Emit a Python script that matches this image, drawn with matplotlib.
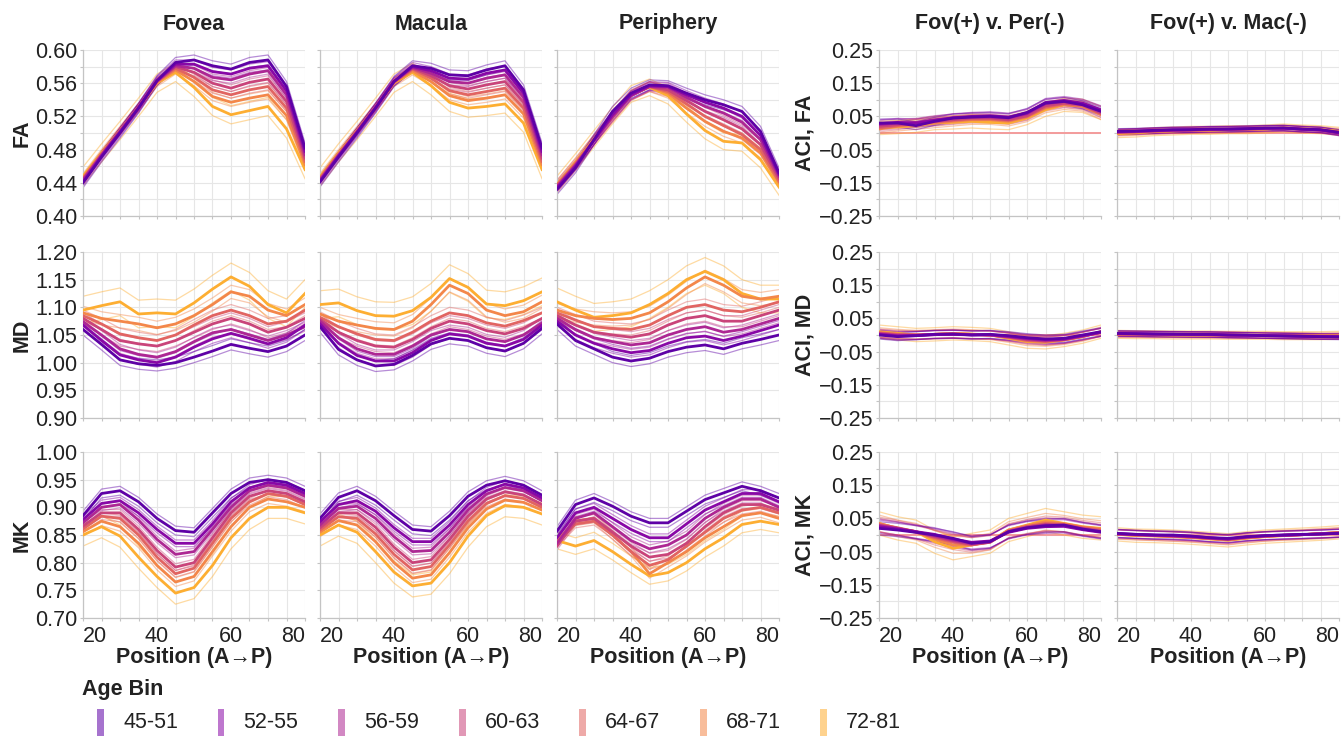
import numpy as np
import matplotlib
matplotlib.use("Agg")
import matplotlib.pyplot as plt
from matplotlib.colors import to_rgb
from matplotlib.patches import Rectangle
from matplotlib.ticker import FuncFormatter, MultipleLocator

plt.rcParams["font.family"] = ["Liberation Sans", "DejaVu Sans"]

# Positions along the tract (A -> P)
POSITION = [20, 25, 30, 35, 40, 45, 50, 55, 60, 65, 70, 75, 80]

AGE_BINS = ["45-51", "52-55", "56-59", "60-63", "64-67", "68-71", "72-81"]
CMAP_STOPS = [0.17, 0.28, 0.39, 0.49, 0.60, 0.71, 0.82]

# Mean profile per age bin (rows = age bins, cols = positions)
FOVEA_FA = [
    [0.440, 0.471, 0.500, 0.530, 0.563, 0.585, 0.588, 0.581, 0.577, 0.585, 0.588, 0.556, 0.482],
    [0.441, 0.472, 0.501, 0.530, 0.563, 0.583, 0.583, 0.574, 0.571, 0.578, 0.581, 0.551, 0.478],
    [0.443, 0.473, 0.502, 0.531, 0.563, 0.581, 0.578, 0.567, 0.564, 0.571, 0.575, 0.546, 0.474],
    [0.444, 0.474, 0.502, 0.531, 0.562, 0.580, 0.573, 0.560, 0.554, 0.561, 0.565, 0.538, 0.470],
    [0.445, 0.474, 0.503, 0.531, 0.562, 0.578, 0.567, 0.552, 0.546, 0.552, 0.556, 0.530, 0.466],
    [0.446, 0.475, 0.503, 0.531, 0.561, 0.576, 0.562, 0.544, 0.537, 0.542, 0.546, 0.521, 0.462],
    [0.448, 0.476, 0.503, 0.531, 0.560, 0.573, 0.555, 0.532, 0.522, 0.527, 0.532, 0.505, 0.456],
]
MACULA_FA = [
    [0.441, 0.471, 0.500, 0.530, 0.562, 0.581, 0.578, 0.570, 0.569, 0.576, 0.581, 0.552, 0.482],
    [0.442, 0.472, 0.501, 0.530, 0.562, 0.580, 0.575, 0.566, 0.565, 0.572, 0.576, 0.548, 0.478],
    [0.443, 0.473, 0.501, 0.531, 0.562, 0.579, 0.572, 0.562, 0.560, 0.566, 0.570, 0.543, 0.474],
    [0.444, 0.473, 0.502, 0.531, 0.562, 0.578, 0.569, 0.557, 0.553, 0.558, 0.562, 0.537, 0.470],
    [0.445, 0.474, 0.502, 0.531, 0.561, 0.577, 0.566, 0.551, 0.546, 0.550, 0.554, 0.530, 0.466],
    [0.446, 0.475, 0.503, 0.531, 0.561, 0.575, 0.562, 0.545, 0.539, 0.542, 0.546, 0.523, 0.462],
    [0.447, 0.476, 0.503, 0.531, 0.560, 0.573, 0.557, 0.537, 0.530, 0.532, 0.535, 0.512, 0.456],
]
PERIPHERY_FA = [
    [0.432, 0.458, 0.492, 0.526, 0.548, 0.558, 0.557, 0.548, 0.540, 0.534, 0.526, 0.502, 0.452],
    [0.434, 0.460, 0.491, 0.522, 0.546, 0.557, 0.556, 0.546, 0.537, 0.530, 0.520, 0.497, 0.450],
    [0.435, 0.461, 0.491, 0.520, 0.545, 0.556, 0.555, 0.543, 0.532, 0.524, 0.513, 0.492, 0.448],
    [0.436, 0.462, 0.491, 0.519, 0.545, 0.556, 0.552, 0.539, 0.526, 0.516, 0.505, 0.486, 0.445],
    [0.437, 0.463, 0.492, 0.519, 0.545, 0.556, 0.550, 0.535, 0.520, 0.509, 0.498, 0.480, 0.442],
    [0.437, 0.464, 0.492, 0.520, 0.546, 0.556, 0.548, 0.530, 0.514, 0.502, 0.494, 0.476, 0.440],
    [0.438, 0.465, 0.493, 0.521, 0.547, 0.555, 0.545, 0.523, 0.503, 0.490, 0.488, 0.468, 0.435],
]
FOVEA_MD = [
    [1.060, 1.033, 1.005, 0.998, 0.995, 1.000, 1.010, 1.021, 1.033, 1.026, 1.020, 1.030, 1.050],
    [1.068, 1.040, 1.014, 1.005, 1.000, 1.010, 1.028, 1.043, 1.053, 1.044, 1.034, 1.045, 1.068],
    [1.074, 1.050, 1.025, 1.015, 1.010, 1.020, 1.038, 1.054, 1.060, 1.050, 1.040, 1.050, 1.065],
    [1.080, 1.060, 1.040, 1.034, 1.030, 1.040, 1.055, 1.070, 1.080, 1.070, 1.055, 1.064, 1.080],
    [1.085, 1.070, 1.052, 1.045, 1.040, 1.050, 1.068, 1.085, 1.095, 1.085, 1.070, 1.075, 1.095],
    [1.090, 1.080, 1.075, 1.070, 1.063, 1.070, 1.085, 1.105, 1.128, 1.120, 1.095, 1.085, 1.105],
    [1.095, 1.103, 1.110, 1.088, 1.090, 1.088, 1.108, 1.133, 1.155, 1.138, 1.105, 1.090, 1.125],
]
MACULA_MD = [
    [1.065, 1.024, 1.005, 0.994, 0.997, 1.013, 1.034, 1.044, 1.040, 1.027, 1.021, 1.035, 1.062],
    [1.070, 1.035, 1.013, 1.003, 1.003, 1.018, 1.040, 1.052, 1.048, 1.035, 1.030, 1.042, 1.068],
    [1.075, 1.045, 1.025, 1.015, 1.015, 1.030, 1.050, 1.060, 1.056, 1.043, 1.038, 1.050, 1.072],
    [1.078, 1.055, 1.040, 1.030, 1.028, 1.042, 1.062, 1.075, 1.070, 1.058, 1.052, 1.062, 1.080],
    [1.082, 1.065, 1.052, 1.042, 1.040, 1.055, 1.075, 1.090, 1.085, 1.072, 1.066, 1.076, 1.090],
    [1.088, 1.075, 1.068, 1.062, 1.060, 1.075, 1.105, 1.140, 1.125, 1.095, 1.085, 1.092, 1.110],
    [1.105, 1.108, 1.094, 1.085, 1.084, 1.094, 1.118, 1.152, 1.136, 1.106, 1.103, 1.112, 1.128],
]
PERIPHERY_MD = [
    [1.070, 1.040, 1.025, 1.010, 1.003, 1.008, 1.020, 1.028, 1.032, 1.025, 1.035, 1.042, 1.050],
    [1.075, 1.050, 1.035, 1.025, 1.018, 1.022, 1.035, 1.045, 1.048, 1.040, 1.048, 1.058, 1.068],
    [1.080, 1.060, 1.045, 1.038, 1.032, 1.036, 1.050, 1.060, 1.065, 1.055, 1.060, 1.070, 1.080],
    [1.085, 1.068, 1.055, 1.050, 1.046, 1.052, 1.068, 1.080, 1.085, 1.075, 1.075, 1.085, 1.095],
    [1.090, 1.077, 1.065, 1.062, 1.060, 1.068, 1.085, 1.100, 1.105, 1.095, 1.092, 1.100, 1.110],
    [1.095, 1.085, 1.080, 1.078, 1.080, 1.090, 1.110, 1.135, 1.155, 1.140, 1.120, 1.115, 1.120],
    [1.110, 1.095, 1.082, 1.085, 1.090, 1.105, 1.125, 1.150, 1.165, 1.150, 1.125, 1.115, 1.115],
]
FOVEA_MK = [
    [0.885, 0.925, 0.930, 0.910, 0.880, 0.858, 0.855, 0.890, 0.925, 0.945, 0.950, 0.945, 0.930],
    [0.878, 0.907, 0.912, 0.890, 0.860, 0.835, 0.835, 0.870, 0.910, 0.935, 0.945, 0.940, 0.925],
    [0.872, 0.900, 0.905, 0.877, 0.842, 0.815, 0.820, 0.860, 0.900, 0.930, 0.940, 0.935, 0.920],
    [0.866, 0.890, 0.890, 0.860, 0.822, 0.792, 0.800, 0.845, 0.890, 0.920, 0.930, 0.925, 0.910],
    [0.861, 0.884, 0.880, 0.850, 0.810, 0.780, 0.790, 0.835, 0.880, 0.910, 0.925, 0.920, 0.905],
    [0.856, 0.875, 0.865, 0.835, 0.795, 0.765, 0.775, 0.820, 0.865, 0.900, 0.915, 0.910, 0.900],
    [0.850, 0.865, 0.848, 0.810, 0.775, 0.745, 0.755, 0.795, 0.845, 0.880, 0.900, 0.900, 0.890],
]
MACULA_MK = [
    [0.880, 0.918, 0.930, 0.912, 0.885, 0.860, 0.857, 0.885, 0.920, 0.940, 0.948, 0.940, 0.922],
    [0.874, 0.905, 0.912, 0.893, 0.863, 0.838, 0.838, 0.868, 0.905, 0.930, 0.942, 0.935, 0.917],
    [0.868, 0.898, 0.902, 0.880, 0.847, 0.820, 0.822, 0.855, 0.895, 0.924, 0.936, 0.930, 0.912],
    [0.863, 0.890, 0.890, 0.864, 0.828, 0.800, 0.805, 0.842, 0.884, 0.915, 0.928, 0.922, 0.905],
    [0.859, 0.883, 0.880, 0.852, 0.815, 0.787, 0.793, 0.832, 0.875, 0.907, 0.921, 0.916, 0.900],
    [0.855, 0.876, 0.868, 0.838, 0.800, 0.772, 0.778, 0.818, 0.863, 0.897, 0.913, 0.909, 0.895],
    [0.850, 0.868, 0.855, 0.820, 0.783, 0.758, 0.763, 0.800, 0.848, 0.885, 0.903, 0.900, 0.888],
]
PERIPHERY_MK = [
    [0.857, 0.905, 0.917, 0.902, 0.884, 0.872, 0.872, 0.893, 0.914, 0.926, 0.938, 0.930, 0.917],
    [0.845, 0.890, 0.900, 0.880, 0.860, 0.845, 0.845, 0.870, 0.895, 0.910, 0.925, 0.925, 0.910],
    [0.835, 0.880, 0.890, 0.865, 0.840, 0.825, 0.832, 0.850, 0.880, 0.900, 0.915, 0.915, 0.900],
    [0.830, 0.875, 0.880, 0.855, 0.830, 0.810, 0.815, 0.835, 0.865, 0.890, 0.905, 0.905, 0.895],
    [0.835, 0.870, 0.875, 0.850, 0.820, 0.795, 0.805, 0.830, 0.855, 0.880, 0.895, 0.900, 0.890],
    [0.840, 0.875, 0.880, 0.850, 0.820, 0.780, 0.800, 0.820, 0.845, 0.865, 0.885, 0.890, 0.880],
    [0.840, 0.830, 0.840, 0.820, 0.797, 0.776, 0.782, 0.800, 0.825, 0.845, 0.869, 0.875, 0.869],
]
FOV_PER_FA = [
    [0.030, 0.030, 0.022, 0.035, 0.045, 0.048, 0.050, 0.046, 0.062, 0.090, 0.095, 0.085, 0.065],
    [0.028, 0.032, 0.030, 0.038, 0.046, 0.050, 0.052, 0.048, 0.060, 0.092, 0.098, 0.090, 0.070],
    [0.025, 0.030, 0.032, 0.040, 0.045, 0.048, 0.048, 0.045, 0.058, 0.088, 0.095, 0.088, 0.068],
    [0.020, 0.025, 0.030, 0.035, 0.040, 0.045, 0.045, 0.040, 0.052, 0.082, 0.090, 0.085, 0.060],
    [0.015, 0.022, 0.028, 0.033, 0.038, 0.042, 0.042, 0.038, 0.050, 0.078, 0.088, 0.082, 0.058],
    [0.012, 0.020, 0.025, 0.030, 0.035, 0.040, 0.040, 0.035, 0.048, 0.075, 0.085, 0.080, 0.055],
    [0.015, 0.018, 0.022, 0.030, 0.032, 0.035, 0.032, 0.030, 0.045, 0.070, 0.085, 0.082, 0.060],
]
FOV_MAC_FA = [
    [0.005, 0.006, 0.008, 0.010, 0.010, 0.012, 0.012, 0.013, 0.015, 0.015, 0.012, 0.010, 0.002],
    [0.004, 0.005, 0.007, 0.009, 0.010, 0.011, 0.012, 0.013, 0.014, 0.015, 0.011, 0.009, 0.000],
    [0.003, 0.005, 0.007, 0.008, 0.009, 0.011, 0.011, 0.012, 0.014, 0.014, 0.011, 0.008, 0.000],
    [0.002, 0.004, 0.006, 0.008, 0.009, 0.010, 0.011, 0.012, 0.013, 0.014, 0.012, 0.009, 0.002],
    [0.001, 0.003, 0.005, 0.007, 0.008, 0.010, 0.010, 0.011, 0.013, 0.015, 0.012, 0.009, 0.003],
    [0.000, 0.002, 0.005, 0.007, 0.008, 0.009, 0.010, 0.011, 0.012, 0.015, 0.012, 0.010, 0.004],
    [-0.002, 0.000, 0.004, 0.006, 0.008, 0.008, 0.010, 0.010, 0.012, 0.015, 0.012, 0.010, 0.005],
]
FOV_PER_MD = [
    [0.000, -0.005, -0.002, 0.002, 0.003, 0.000, 0.002, -0.002, -0.008, -0.012, -0.010, 0.000, 0.010],
    [0.002, -0.003, -0.002, 0.001, 0.002, 0.000, 0.001, -0.004, -0.010, -0.014, -0.012, -0.002, 0.008],
    [0.003, -0.002, -0.001, 0.001, 0.002, 0.001, 0.000, -0.005, -0.012, -0.016, -0.013, -0.003, 0.008],
    [0.005, 0.000, 0.000, 0.002, 0.003, 0.001, 0.000, -0.006, -0.014, -0.018, -0.014, -0.004, 0.008],
    [0.006, 0.002, 0.000, 0.002, 0.004, 0.002, 0.000, -0.007, -0.016, -0.019, -0.014, -0.004, 0.009],
    [0.008, 0.003, 0.000, 0.002, 0.004, 0.002, 0.000, -0.008, -0.018, -0.020, -0.015, -0.005, 0.010],
    [0.010, 0.005, 0.000, 0.002, 0.005, 0.003, 0.000, -0.010, -0.020, -0.022, -0.015, -0.005, 0.010],
]
FOV_MAC_MD = [
    [0.005, 0.004, 0.003, 0.003, 0.002, 0.002, 0.000, 0.000, -0.002, -0.003, -0.004, -0.005, -0.006],
    [0.004, 0.004, 0.003, 0.002, 0.002, 0.001, 0.000, -0.001, -0.002, -0.003, -0.004, -0.005, -0.005],
    [0.004, 0.003, 0.003, 0.002, 0.001, 0.001, 0.000, -0.001, -0.002, -0.003, -0.003, -0.004, -0.004],
    [0.003, 0.003, 0.002, 0.002, 0.001, 0.001, 0.000, -0.001, -0.002, -0.002, -0.003, -0.004, -0.004],
    [0.003, 0.002, 0.002, 0.001, 0.001, 0.000, 0.000, -0.001, -0.001, -0.002, -0.003, -0.003, -0.003],
    [0.002, 0.002, 0.001, 0.001, 0.000, 0.000, 0.000, -0.001, -0.001, -0.002, -0.002, -0.003, -0.002],
    [0.002, 0.001, 0.001, 0.000, 0.000, 0.000, -0.001, -0.001, -0.001, -0.002, -0.002, -0.002, -0.001],
]
FOV_PER_MK = [
    [0.020, 0.015, 0.008, 0.000, -0.010, -0.025, -0.020, 0.010, 0.022, 0.028, 0.030, 0.018, 0.010],
    [0.025, 0.018, 0.010, 0.002, -0.012, -0.022, -0.018, 0.008, 0.020, 0.025, 0.026, 0.016, 0.008],
    [0.028, 0.020, 0.010, -0.002, -0.015, -0.025, -0.020, 0.010, 0.022, 0.030, 0.028, 0.018, 0.010],
    [0.030, 0.020, 0.008, -0.005, -0.018, -0.028, -0.022, 0.012, 0.025, 0.032, 0.030, 0.020, 0.012],
    [0.032, 0.022, 0.010, -0.008, -0.022, -0.030, -0.022, 0.012, 0.025, 0.035, 0.032, 0.022, 0.015],
    [0.035, 0.020, 0.010, -0.012, -0.030, -0.030, -0.020, 0.015, 0.028, 0.040, 0.034, 0.024, 0.018],
    [0.035, 0.020, 0.010, -0.020, -0.040, -0.030, -0.020, 0.015, 0.030, 0.045, 0.035, 0.025, 0.020],
]
FOV_MAC_MK = [
    [0.005, 0.002, 0.000, 0.000, -0.003, -0.008, -0.010, -0.005, -0.002, 0.000, 0.002, 0.003, 0.005],
    [0.004, 0.002, 0.000, -0.002, -0.004, -0.008, -0.012, -0.006, -0.002, 0.000, 0.001, 0.003, 0.005],
    [0.004, 0.001, -0.001, -0.002, -0.005, -0.009, -0.012, -0.006, -0.003, -0.001, 0.001, 0.003, 0.006],
    [0.003, 0.001, -0.001, -0.003, -0.006, -0.010, -0.013, -0.007, -0.003, -0.001, 0.001, 0.004, 0.006],
    [0.003, 0.000, -0.002, -0.004, -0.006, -0.010, -0.014, -0.008, -0.004, -0.001, 0.001, 0.004, 0.007],
    [0.002, 0.000, -0.002, -0.004, -0.007, -0.011, -0.015, -0.009, -0.004, -0.001, 0.001, 0.004, 0.007],
    [0.002, -0.002, -0.003, -0.005, -0.008, -0.012, -0.016, -0.010, -0.005, -0.002, 0.001, 0.004, 0.008],
]

# Half-width of the interval drawn as thin lines around each mean, per age bin
CI_FA = [0.006, 0.005, 0.004, 0.004, 0.004, 0.005, 0.011]
CI_PERIPHERY_FA = [0.006, 0.005, 0.005, 0.005, 0.006, 0.006, 0.010]
CI_MD = [0.010, 0.008, 0.008, 0.010, 0.010, 0.012, 0.025]
CI_MK = [0.008, 0.006, 0.006, 0.006, 0.006, 0.008, 0.020]
CI_PERIPHERY_MK = [0.008, 0.007, 0.007, 0.007, 0.007, 0.008, 0.015]
CI_ACI_PER = [0.012, 0.012, 0.012, 0.012, 0.012, 0.014, 0.020]
CI_ACI_MAC = [0.008, 0.008, 0.008, 0.008, 0.008, 0.009, 0.012]
CI_ACI_PER_MK = [0.020, 0.020, 0.020, 0.020, 0.022, 0.025, 0.035]
CI_ACI_MAC_MK = [0.012, 0.012, 0.012, 0.012, 0.014, 0.015, 0.020]

COL_TITLES = ["Fovea", "Macula", "Periphery", "Fov(+) v. Per(-)", "Fov(+) v. Mac(-)"]
ROW_LABELS = ["FA", "MD", "MK"]
ACI_LABELS = ["ACI, FA", "ACI, MD", "ACI, MK"]

W, H = 1341, 736
COL_LEFT = [83, 320, 557, 879, 1117]
ROW_TOP = [50, 252, 452]
PANEL_W, PANEL_H = 222, 166

# (ymin, ymax, labelled step, grid step)
ROW_SCALES = [(0.40, 0.60, 0.04, 0.02), (0.90, 1.20, 0.05, 0.05), (0.70, 1.00, 0.05, 0.05)]
ACI_SCALE = (-0.25, 0.25, 0.10, 0.05)

PANELS = [
    [(FOVEA_FA, CI_FA), (MACULA_FA, CI_FA), (PERIPHERY_FA, CI_PERIPHERY_FA),
     (FOV_PER_FA, CI_ACI_PER), (FOV_MAC_FA, CI_ACI_MAC)],
    [(FOVEA_MD, CI_MD), (MACULA_MD, CI_MD), (PERIPHERY_MD, CI_MD),
     (FOV_PER_MD, CI_ACI_PER), (FOV_MAC_MD, CI_ACI_MAC)],
    [(FOVEA_MK, CI_MK), (MACULA_MK, CI_MK), (PERIPHERY_MK, CI_PERIPHERY_MK),
     (FOV_PER_MK, CI_ACI_PER_MK), (FOV_MAC_MK, CI_ACI_MAC_MK)],
]

cmap = plt.get_cmap("plasma")
line_colors = [cmap(s) for s in CMAP_STOPS]
swatch_colors = [tuple(0.55 * np.array(to_rgb(c)) + 0.45) for c in line_colors]

GRID = "#e6e6e6"
AXIS = "#c4c4c4"
INK = "#222222"
FS = 15.5


def fmt_tick(v, _pos):
    return f"{v:.2f}".replace("-", "\u2212")


def rect(left, top, w, h):
    return [left / W, 1 - (top + h) / H, w / W, h / H]


fig = plt.figure(figsize=(W / 100, H / 100), dpi=100)
x = np.array(POSITION)

for r in range(3):
    for c in range(5):
        ax = fig.add_axes(rect(COL_LEFT[c], ROW_TOP[r], PANEL_W, PANEL_H))
        means, ci = PANELS[r][c]
        ymin, ymax, step, grid_step = ACI_SCALE if c >= 3 else ROW_SCALES[r]

        if c >= 3:
            ax.axhline(0, color="#f39b9b", lw=1.4, zorder=1)

        # interval edges first, then the mean lines (youngest bin on top)
        for i in range(len(AGE_BINS) - 1, -1, -1):
            m = np.array(means[i])
            for edge in (m - ci[i], m + ci[i]):
                ax.plot(x, edge, color=line_colors[i], lw=0.9, alpha=0.45, zorder=2)
        for i in range(len(AGE_BINS) - 1, -1, -1):
            ax.plot(x, means[i], color=line_colors[i], lw=2.0, zorder=3,
                    solid_joinstyle="round")

        ax.set_xlim(20, 80)
        ax.set_ylim(ymin, ymax)
        ax.set_xticks([20, 40, 60, 80])
        ax.xaxis.set_minor_locator(MultipleLocator(5))
        ax.set_yticks(np.round(np.arange(ymax, ymin - 1e-9, -step), 3))
        ax.yaxis.set_minor_locator(MultipleLocator(grid_step))
        ax.yaxis.set_major_formatter(FuncFormatter(fmt_tick))

        ax.grid(True, which="both", color=GRID, lw=0.8, zorder=0)
        ax.set_axisbelow(True)
        for side in ("top", "right"):
            ax.spines[side].set_visible(False)
        for side in ("left", "bottom"):
            ax.spines[side].set_color(AXIS)
            ax.spines[side].set_linewidth(0.9)

        ax.tick_params(which="both", length=2.5, width=0.8, color=AXIS,
                       labelsize=FS, pad=1.5, labelcolor=INK)
        ax.tick_params(axis="x", which="both", pad=3)
        ax.tick_params(labelleft=(c in (0, 3)), labelbottom=(r == 2))

        if r == 2:
            labels = ax.get_xticklabels()
            labels[0].set_horizontalalignment("left")
            labels[-1].set_horizontalalignment("right")

# column titles
for c, title in enumerate(COL_TITLES):
    fig.text((COL_LEFT[c] + PANEL_W / 2) / W, 1 - 24 / H, title, ha="center", va="center",
             fontsize=FS, fontweight="bold", color=INK)

# row labels
for r in range(3):
    yc = 1 - (ROW_TOP[r] + PANEL_H / 2) / H
    fig.text(22 / W, yc, ROW_LABELS[r], rotation=90, ha="center", va="center",
             fontsize=FS, fontweight="bold", color=INK)
    fig.text(805 / W, yc, ACI_LABELS[r], rotation=90, ha="center", va="center",
             fontsize=FS, fontweight="bold", color=INK)

# x axis titles
for c in range(5):
    fig.text((COL_LEFT[c] + PANEL_W / 2) / W, 1 - 657 / H, "Position (A\u2192P)",
             ha="center", va="center", fontsize=FS, fontweight="bold", color=INK)

# legend
fig.text(82 / W, 1 - 690 / H, "Age Bin", ha="left", va="center",
         fontsize=FS, fontweight="bold", color=INK)
for i, label in enumerate(AGE_BINS):
    left = 97 + 120.5 * i
    fig.add_artist(Rectangle((left / W, 1 - 736 / H), 7 / W, 27 / H,
                             transform=fig.transFigure, color=swatch_colors[i], lw=0))
    fig.text((left + 26) / W, 1 - 722 / H, label, ha="left", va="center",
             fontsize=FS, color=INK)

fig.savefig("out.png", dpi=100)
